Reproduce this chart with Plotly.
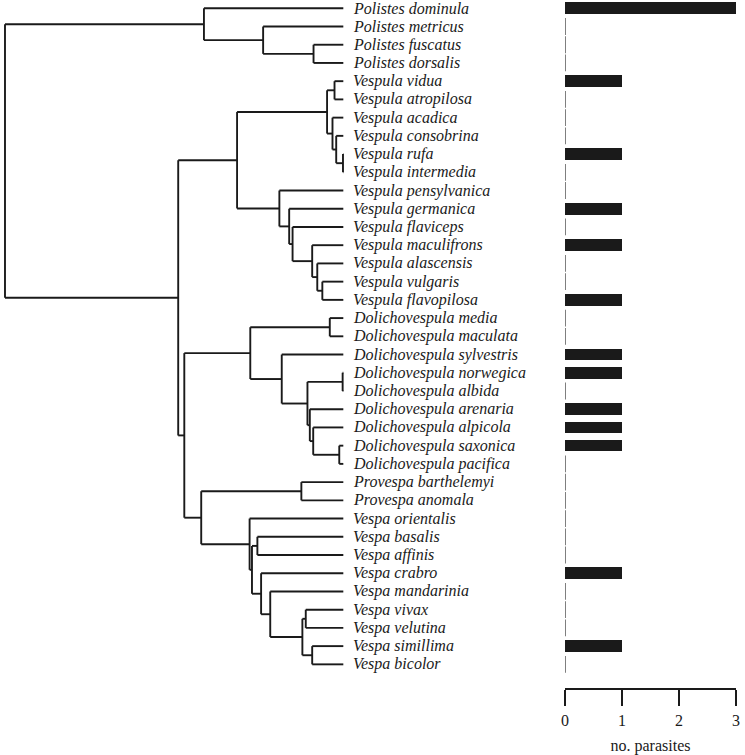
import plotly.graph_objects as go

# ---------------- data ----------------
species = [
    "Polistes dominula", "Polistes metricus", "Polistes fuscatus", "Polistes dorsalis",
    "Vespula vidua", "Vespula atropilosa", "Vespula acadica", "Vespula consobrina",
    "Vespula rufa", "Vespula intermedia", "Vespula pensylvanica", "Vespula germanica",
    "Vespula flaviceps", "Vespula maculifrons", "Vespula alascensis", "Vespula vulgaris",
    "Vespula flavopilosa",
    "Dolichovespula media", "Dolichovespula maculata", "Dolichovespula sylvestris",
    "Dolichovespula norwegica", "Dolichovespula albida", "Dolichovespula arenaria",
    "Dolichovespula alpicola", "Dolichovespula saxonica", "Dolichovespula pacifica",
    "Provespa barthelemyi", "Provespa anomala",
    "Vespa orientalis", "Vespa basalis", "Vespa affinis", "Vespa crabro",
    "Vespa mandarinia", "Vespa vivax", "Vespa velutina", "Vespa simillima", "Vespa bicolor",
]

parasites = [3, 0, 0, 0,
             1, 0, 0, 0, 1, 0, 0, 1, 0, 1, 0, 0, 1,
             0, 0, 1, 1, 0, 1, 1, 1, 0,
             0, 0,
             0, 0, 0, 1, 0, 0, 0, 1, 0]

# internal nodes: name, depth (tips at 100, root at 0), children
tip_depth = 100.0
node_names = ["root", "Polistes", "P2", "P3", "Vespinae", "Vespula", "U0", "VA", "AC", "CR", "RI",
              "L0", "L1", "L2", "L3", "L4", "L5", "Rest", "Dol", "MM", "D1", "NA", "D2", "D3", "D4",
              "SP", "PV", "Prov", "V0", "V1", "BA", "V2", "V3", "V4", "VV", "SB"]
node_depths = [0.0, 58.8, 76.3, 91.2, 51.2, 68.6, 95.2, 97.4, 96.8, 97.9, 99.9,
               81.1, 84.0, 85.0, 90.8, 92.3, 93.8, 53.0, 72.5, 96.0, 81.8, 99.8, 89.4, 90.1, 91.1,
               98.8, 58.0, 87.6, 72.3, 73.0, 74.6, 75.7, 78.4, 87.9, 88.9, 90.8]
node_children = [
    ["Polistes", "Vespinae"],
    ["Polistes dominula", "P2"],
    ["Polistes metricus", "P3"],
    ["Polistes fuscatus", "Polistes dorsalis"],
    ["Vespula", "Rest"],
    ["U0", "L0"],
    ["VA", "AC"],
    ["Vespula vidua", "Vespula atropilosa"],
    ["Vespula acadica", "CR"],
    ["Vespula consobrina", "RI"],
    ["Vespula rufa", "Vespula intermedia"],
    ["Vespula pensylvanica", "L1"],
    ["Vespula germanica", "L2"],
    ["Vespula flaviceps", "L3"],
    ["Vespula maculifrons", "L4"],
    ["Vespula alascensis", "L5"],
    ["Vespula vulgaris", "Vespula flavopilosa"],
    ["Dol", "PV"],
    ["MM", "D1"],
    ["Dolichovespula media", "Dolichovespula maculata"],
    ["Dolichovespula sylvestris", "D2"],
    ["Dolichovespula norwegica", "Dolichovespula albida"],
    ["NA", "D3"],
    ["Dolichovespula arenaria", "D4"],
    ["Dolichovespula alpicola", "SP"],
    ["Dolichovespula saxonica", "Dolichovespula pacifica"],
    ["Prov", "V0"],
    ["Provespa barthelemyi", "Provespa anomala"],
    ["Vespa orientalis", "V1"],
    ["BA", "V2"],
    ["Vespa basalis", "Vespa affinis"],
    ["Vespa crabro", "V3"],
    ["Vespa mandarinia", "V4"],
    ["VV", "SB"],
    ["Vespa vivax", "Vespa velutina"],
    ["Vespa simillima", "Vespa bicolor"],
]

bar_ticks = [0, 1, 2, 3]

# ---------------- tree layout ----------------
depth = {s: tip_depth for s in species}
ypos = {s: i for i, s in enumerate(species)}
children = {}
for n, d, c in zip(node_names, node_depths, node_children):
    depth[n] = d
    children[n] = c


def get_y(n):
    if n in ypos:
        return ypos[n]
    ys = [get_y(c) for c in children[n]]
    ypos[n] = (ys[0] + ys[-1]) / 2.0
    return ypos[n]


get_y("root")

xs, ys = [], []
for n in node_names:
    cy = [ypos[c] for c in children[n]]
    xs += [depth[n], depth[n], None]
    ys += [min(cy), max(cy), None]
    for c in children[n]:
        xs += [depth[n], depth[c], None]
        ys += [ypos[c], ypos[c], None]

INK = "#1a1a1a"
fig = go.Figure()
fig.add_trace(go.Scatter(x=xs, y=ys, mode="lines", line=dict(color=INK, width=1.9),
                         hoverinfo="skip", showlegend=False, xaxis="x", yaxis="y"))

rows = list(range(len(species)))
fig.add_trace(go.Bar(x=parasites, y=rows, orientation="h", width=0.64,
                     marker=dict(color=INK, line=dict(width=0)),
                     showlegend=False, xaxis="x2", yaxis="y"))
zero_rows = [r for r, v in zip(rows, parasites) if v == 0]
fig.add_trace(go.Scatter(x=[0] * len(zero_rows), y=zero_rows, mode="markers",
                         marker=dict(symbol="line-ns", size=12, line=dict(color=INK, width=1.3)),
                         showlegend=False, hoverinfo="skip", xaxis="x2", yaxis="y"))

for s in species:
    fig.add_annotation(x=tip_depth, y=ypos[s], xref="x", yref="y", text="<i>" + s + "</i>",
                       showarrow=False, xanchor="left", yanchor="middle", xshift=8,
                       font=dict(family="Liberation Serif", size=16, color=INK))

W, H = 745, 755
bottom = 692
row0_px, row_step = 8.33, 18.33
y_top = -row0_px / row_step
y_bot = (bottom - row0_px) / row_step
tree_px0, tree_px_tip = 1.0, 343.0
scale = (tree_px_tip - tree_px0) / tip_depth
bx0, bx1 = 567, 740

fig.update_layout(
    width=W, height=H,
    margin=dict(l=0, r=0, t=0, b=H - bottom),
    paper_bgcolor="white", plot_bgcolor="white",
    font=dict(family="Liberation Serif", color=INK),
    bargap=0,
    xaxis=dict(domain=[0, 1], range=[-tree_px0 / scale, (W - tree_px0) / scale],
               visible=False, fixedrange=True),
    xaxis2=dict(domain=[bx0 / W, bx1 / W], range=[0, 3], anchor="y",
                showline=True, linecolor=INK, linewidth=1.8,
                ticks="outside", ticklen=16, tickwidth=1.8, tickcolor=INK,
                tickvals=bar_ticks, ticktext=[str(t) for t in bar_ticks],
                tickfont=dict(family="Liberation Serif", size=16, color=INK),
                ticklabelstandoff=1,
                showgrid=False, zeroline=False, fixedrange=True,
                title=dict(text="no. parasites", standoff=15,
                           font=dict(family="Liberation Serif", size=16, color=INK))),
    yaxis=dict(range=[y_bot, y_top], visible=False, fixedrange=True),
)

# remove the browser's default 8px body margin so the figure sits at the window's corner
fig.write_html("out.html", config={"displayModeBar": False},
               post_script="document.body.style.margin='0';")
